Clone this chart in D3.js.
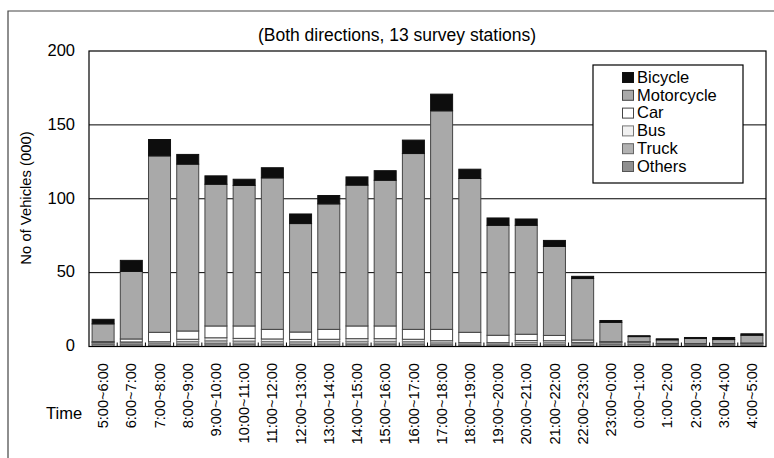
<!DOCTYPE html>
<html><head><meta charset="utf-8">
<script src="https://cdn.jsdelivr.net/npm/d3@7/dist/d3.min.js"></script>
<style>body{margin:0;background:#fff;} svg{display:block;font-family:"Liberation Sans",Arial,sans-serif;}</style>
</head><body>
<svg id="c" width="774" height="458"></svg>
<script>
const categories = ["5:00~6:00","6:00~7:00","7:00~8:00","8:00~9:00","9:00~10:00","10:00~11:00","11:00~12:00","12:00~13:00","13:00~14:00","14:00~15:00","15:00~16:00","16:00~17:00","17:00~18:00","18:00~19:00","19:00~20:00","20:00~21:00","21:00~22:00","22:00~23:00","23:00~0:00","0:00~1:00","1:00~2:00","2:00~3:00","3:00~4:00","4:00~5:00"];
const others     = [1.5,1.2,1.0,1.6,1.9,1.7,1.6,1.5,1.6,1.7,1.7,1.6,1.2,0.8,0.8,1.3,1.2,1.0,1.5,1.5,0.9,0.9,0.9,1.0];
const truck      = [1.0,1.3,1.2,1.8,2.0,2.0,1.8,1.7,1.7,1.8,1.8,1.7,1.3,0.9,0.9,1.4,1.4,1.0,1.1,1.2,0.7,0.7,0.7,0.8];
const bus        = [0.3,0.6,1.0,1.5,2.0,1.8,1.7,1.6,1.6,1.8,1.8,1.6,1.4,0.9,0.9,1.3,1.3,0.8,0.3,0.3,0.2,0.2,0.2,0.3];
const car        = [0.5,2.0,6.4,5.6,8.0,8.4,6.5,5.0,6.7,8.6,8.6,6.7,7.7,7.0,5.0,4.3,3.6,1.6,0.4,0.3,0.2,0.2,0.2,0.3];
const motorcycle = [12.0,45.7,119.4,112.9,95.9,95.1,102.5,73.4,84.9,95.3,98.6,119.0,147.9,104.1,74.4,73.7,60.2,41.6,13.0,3.4,2.5,3.4,2.7,5.2];
const bicycle    = [3.1,7.5,11.1,6.6,5.7,4.2,6.9,6.5,5.7,5.6,6.5,9.1,11.3,6.3,5.0,4.3,4.1,1.5,1.3,0.6,0.7,0.7,1.4,1.0];
const seriesNames = ["Others","Truck","Bus","Car","Motorcycle","Bicycle"];
const yTicks = [0,50,100,150,200];

const series = {Others:others,Truck:truck,Bus:bus,Car:car,Motorcycle:motorcycle,Bicycle:bicycle};
const fills = {Bicycle:"#0d0d0d",Motorcycle:"#a9a9a9",Car:"#ffffff",Bus:"#f1f1f1",Truck:"#b2b2b2",Others:"#8f8f8f"};
const strokes = {Bicycle:"#111",Motorcycle:"#444",Car:"#444",Bus:"#777",Truck:"#666",Others:"#555"};

const svg = d3.select("#c");
const L=89,R=766,T=51,B=346.5;
const x = d3.scaleBand().domain(categories).range([L,R]).paddingInner(0.22).paddingOuter(0.11);
const y = d3.scaleLinear().domain([0,200]).range([B,T]);

// outer frame
svg.append("path").attr("d","M8,458 V11 H774").attr("fill","none").attr("stroke","#444").attr("stroke-width",1.2);

// gridlines
svg.append("g").selectAll("line").data(yTicks.filter(d=>d>0&&d<200)).join("line")
  .attr("x1",L).attr("x2",R).attr("y1",d=>y(d)).attr("y2",d=>y(d)).attr("stroke","#000").attr("stroke-width",1);

// stacked bars
const table = categories.map((c,i)=>{const o={cat:c};seriesNames.forEach(s=>o[s]=series[s][i]);return o;});
const stack = d3.stack().keys(seriesNames)(table);
svg.append("g").selectAll("g").data(stack).join("g")
  .attr("fill",d=>fills[d.key]).attr("stroke",d=>strokes[d.key]).attr("stroke-width",1)
  .selectAll("rect").data(d=>d).join("rect")
  .attr("x",d=>x(d.data.cat)).attr("width",x.bandwidth())
  .attr("y",d=>y(d[1])).attr("height",d=>Math.max(0,y(d[0])-y(d[1])));

// plot border
svg.append("rect").attr("x",L).attr("y",T).attr("width",R-L).attr("height",B-T).attr("fill","none").attr("stroke","#000").attr("stroke-width",1.2);

// x ticks between categories (inside)
const step = x.step();
svg.append("g").selectAll("line").data(categories.slice(1)).join("line")
  .attr("x1",d=>x(d)-x.paddingInner()*step/2).attr("x2",d=>x(d)-x.paddingInner()*step/2)
  .attr("y1",B).attr("y2",B-4).attr("stroke","#000");

// y axis labels
svg.append("g").selectAll("text").data(yTicks).join("text")
  .attr("x",75).attr("y",d=>y(d)-1).attr("dy","0.35em").attr("text-anchor","end")
  .attr("font-size",16.5).attr("fill","#000").text(d=>d);

// x labels
svg.append("g").selectAll("text").data(categories).join("text")
  .attr("transform",d=>`translate(${x(d)+x.bandwidth()/2},363) rotate(-90)`)
  .attr("text-anchor","end").attr("dy","0.35em").attr("font-size",14.6).attr("fill","#000").text(d=>d);

svg.append("text").attr("x",46).attr("y",419).attr("font-size",16.5).text("Time");
svg.append("text").attr("transform","translate(31,198) rotate(-90)").attr("text-anchor","middle")
  .attr("font-size",14.8).text("No of Vehicles (000)");
svg.append("text").attr("x",397).attr("y",41).attr("text-anchor","middle").attr("font-size",17.5)
  .text("(Both directions, 13 survey stations)");

// legend
const lg = svg.append("g");
lg.append("rect").attr("x",593).attr("y",65).attr("width",150).attr("height",118).attr("fill","#fff").attr("stroke","#000").attr("stroke-width",1.2);
const legendOrder = ["Bicycle","Motorcycle","Car","Bus","Truck","Others"];
legendOrder.forEach((k,i)=>{
  const cy = 77 + i*17.8;
  lg.append("rect").attr("x",622.5).attr("y",cy-4.5).attr("width",11).attr("height",10).attr("fill",fills[k]).attr("stroke",strokes[k]);
  lg.append("text").attr("x",637).attr("y",cy).attr("dy","0.35em").attr("font-size",16.5).text(k);
});
</script>
</body></html>
